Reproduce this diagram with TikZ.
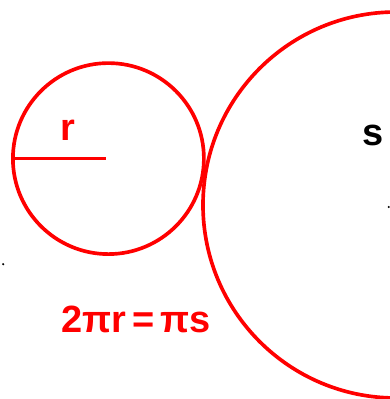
\documentclass[tikz,border=0pt]{standalone}
\usepackage{fontspec}
\setmainfont{Liberation Sans}
\usetikzlibrary{positioning}

\definecolor{circred}{RGB}{255,0,0}
\tikzset{
  rim/.style={circle, draw=circred, line width=2.6pt, inner sep=0pt},
  bigtext/.style={font=\bfseries\fontsize{27}{30}\selectfont, inner sep=0pt}
}

\begin{document}
\begin{tikzpicture}
\useasboundingbox (0,0) rectangle (9.75,9.975);
\clip (0,0) rectangle (9.75,9.975);
% left: small circle with radius r
\node[rim, minimum size=4.775cm] (small) at (2.71,6.01) {};
\draw[circred, line width=2.6pt] (small.west) -- ([xshift=-0.05cm]small.center);
\node[bigtext, circred] (rlabel) at (1.7,6.72) {r};
% right: large circle with diameter s
\node[rim, minimum size=9.65cm] (large) at (9.9,4.85) {};
\node[bigtext] (slabel) at (9.33,6.6) {s};
\fill (9.72,4.8) circle (0.03);
\fill (0.08,3.37) circle (0.03);
% relation
\node[bigtext, circred] (relation) at (3.4,2.0) {2πr\,=\,πs};
\end{tikzpicture}
\end{document}
